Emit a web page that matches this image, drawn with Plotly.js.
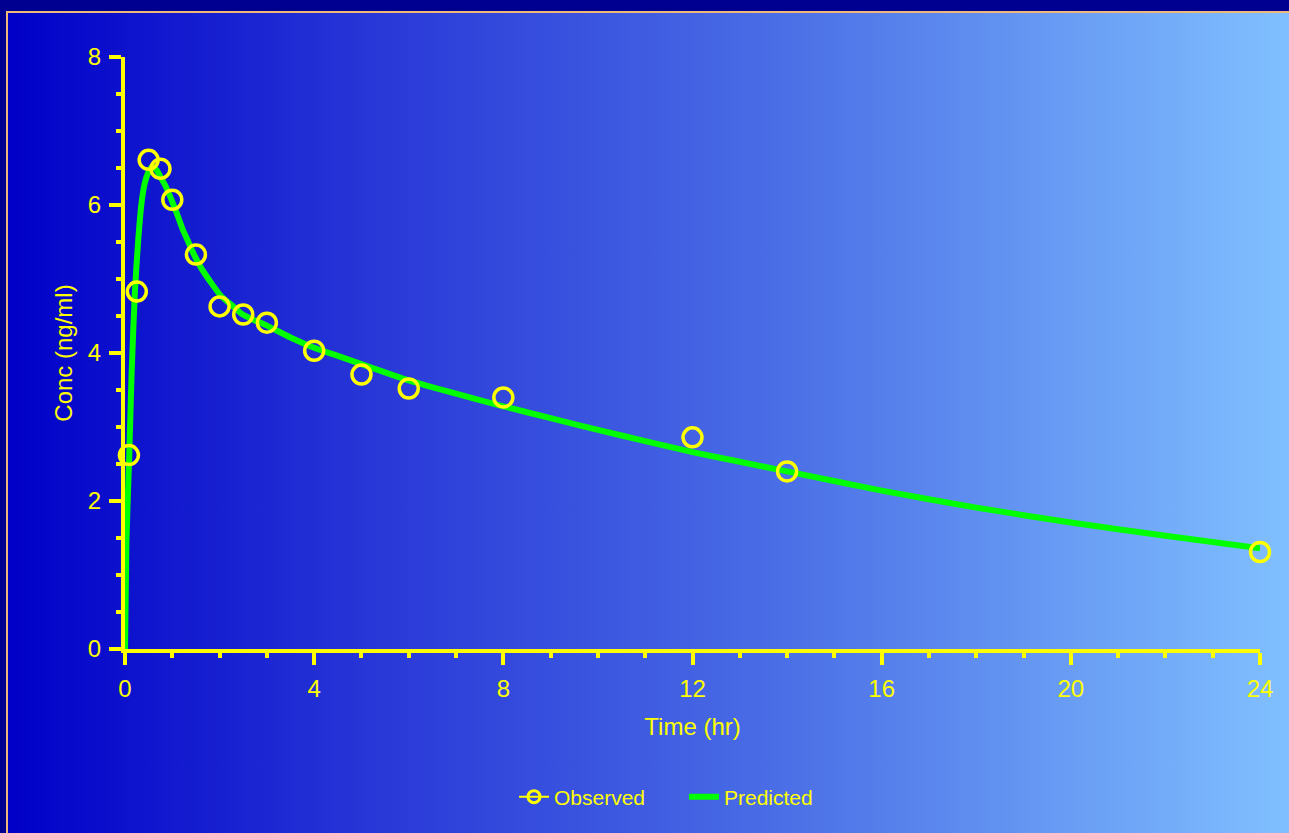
<!DOCTYPE html>
<html>
<head>
<meta charset="utf-8">
<script src="https://cdn.plot.ly/plotly-3.0.1.min.js"></script>
<style>
  html, body { margin: 0; padding: 0; width: 1289px; height: 833px; overflow: hidden; background: #000090; }
  #frame { position: absolute; left: 6px; top: 11px; width: 1283px; height: 822px;
           border-left: 2px solid #f0b878; border-top: 2px solid #f0b878;
           background: linear-gradient(to right, #0000c8 0%, #2a3ad8 30%, #4a6ee6 60%, #80c0ff 100%); }
  #chart { position: absolute; left: 0; top: 0; width: 1289px; height: 833px; }
</style>
</head>
<body>
<div id="frame"></div>
<div id="chart"></div>
<script>
// Observed data
const obsTime = [0.083, 0.25, 0.5, 0.75, 1, 1.5, 2, 2.5, 3, 4, 5, 6, 8, 12, 14, 24];
const obsConc = [2.62, 4.83, 6.61, 6.49, 6.07, 5.33, 4.63, 4.52, 4.41, 4.03, 3.71, 3.52, 3.40, 2.86, 2.40, 1.31];

// Predicted curve
const predTime = [0, 0.03, 0.09, 0.14, 0.21, 0.28, 0.35, 0.42, 0.5, 0.58, 0.67, 0.76, 0.87, 0.97, 1.1, 1.22, 1.34, 1.46, 1.61, 1.82, 2.03, 2.25, 2.49, 2.75, 3.0, 3.5, 4, 4.5, 5, 6, 7, 8, 9, 10, 11, 12, 13, 14, 16, 18, 20, 22, 24];
const predConc = [0, 1.45, 2.62, 3.73, 4.84, 5.53, 6.03, 6.30, 6.45, 6.52, 6.47, 6.37, 6.24, 6.09, 5.88, 5.67, 5.50, 5.33, 5.15, 4.95, 4.77, 4.65, 4.52, 4.44, 4.37, 4.21, 4.07, 3.96, 3.85, 3.63, 3.45, 3.28, 3.12, 2.96, 2.81, 2.66, 2.53, 2.40, 2.14, 1.91, 1.71, 1.53, 1.36];

const xTickVals = [0, 4, 8, 12, 16, 20, 24];
const yTickVals = [0, 2, 4, 6, 8];
const legendNames = ['Observed', 'Predicted'];
const xTitle = 'Time (hr)';
const yTitle = 'Conc (ng/ml)';

const YEL = '#ffff00';
const GRN = '#00ff00';
const FONT = 'Liberation Sans, Arial, sans-serif';

const traces = [
  { x: predTime, y: predConc, type: 'scatter', mode: 'lines', name: legendNames[1],
    line: { color: GRN, width: 6, shape: 'spline', smoothing: 0.6 }, legendrank: 2, hoverinfo: 'skip' },
  { x: obsTime, y: obsConc, type: 'scatter', mode: 'markers', name: legendNames[0], showlegend: false,
    marker: { symbol: 'circle-open', size: 19, color: YEL, line: { color: YEL, width: 3.5 } }, cliponaxis: false },
  { x: [null], y: [null], type: 'scatter', mode: 'lines+markers', name: legendNames[0], legendrank: 1,
    line: { color: YEL, width: 2 },
    marker: { symbol: 'circle-open', size: 12, color: YEL, line: { color: YEL, width: 3 } } }
];

const axisCommon = {
  showgrid: false, zeroline: false, showline: true, linecolor: YEL, linewidth: 4,
  ticks: 'outside', ticklen: 12, tickwidth: 4, tickcolor: YEL,
  tickfont: { family: FONT, size: 24, color: YEL },
  fixedrange: true
};

const layout = {
  width: 1289, height: 833,
  paper_bgcolor: 'rgba(0,0,0,0)', plot_bgcolor: 'rgba(0,0,0,0)',
  margin: { l: 125, r: 29, t: 57, b: 184 },
  showlegend: true,
  font: { family: FONT, color: YEL },
  xaxis: Object.assign({}, axisCommon, {
    range: [0, 24], tickmode: 'array', tickvals: xTickVals,
    minor: { dtick: 1, ticks: 'outside', ticklen: 5, tickwidth: 4, tickcolor: YEL, showgrid: false },
    ticklabelstandoff: 3,
    title: { text: xTitle, font: { family: FONT, size: 24, color: YEL }, standoff: 18 }
  }),
  yaxis: Object.assign({}, axisCommon, {
    range: [0, 8], tickmode: 'array', tickvals: yTickVals,
    minor: { dtick: 0.5, ticks: 'outside', ticklen: 5, tickwidth: 4, tickcolor: YEL, showgrid: false },
    ticklabelstandoff: 3,
    title: { text: yTitle, font: { family: FONT, size: 24, color: YEL }, standoff: 9 }
  }),
  legend: {
    orientation: 'h', xref: 'container', yref: 'container',
    x: 684 / 1289, xanchor: 'center', y: 1 - 797 / 833, yanchor: 'middle',
    font: { family: FONT, size: 21, color: YEL }, bgcolor: 'rgba(0,0,0,0)',
    traceorder: 'normal', entrywidth: 125, entrywidthmode: 'pixels'
  }
};

Plotly.newPlot('chart', traces, layout, { displayModeBar: false, staticPlot: true });
</script>
</body>
</html>
